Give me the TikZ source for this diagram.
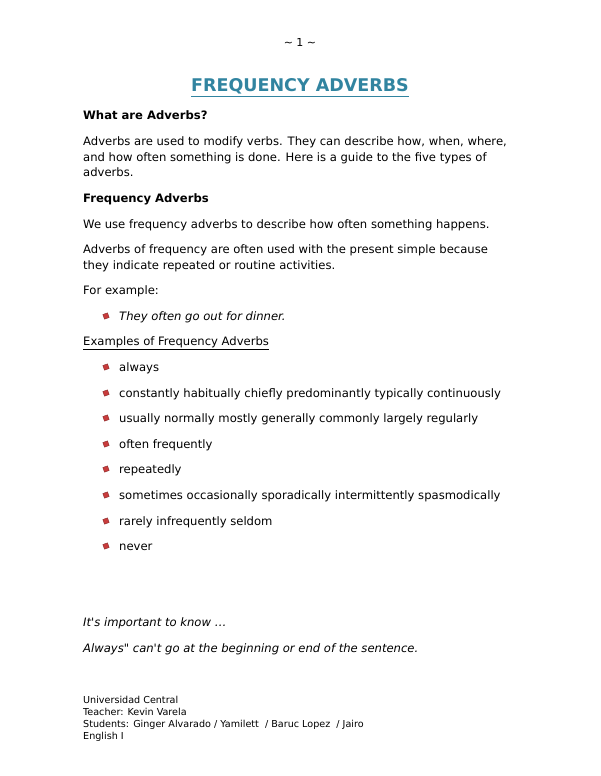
\documentclass[tikz,border=0pt]{standalone}
\usepackage{fontspec}
\setmainfont{DejaVu Sans}[Ligatures=TeXOff]
\definecolor{ttl}{RGB}{49,132,160}
\definecolor{bul}{RGB}{200,60,60}
\begin{document}
\begin{tikzpicture}[x=1pt,y=-1pt,
  txt/.style={anchor=base west,inner sep=0pt,font=\fontsize{11.6}{13}\selectfont},
  bt/.style={txt,font=\fontsize{11.6}{13}\selectfont\bfseries},
  it/.style={txt,font=\fontsize{11.6}{13}\selectfont\itshape},
  ft/.style={anchor=base west,inner sep=0pt,font=\fontsize{9.6}{10}\selectfont},
  bx/.style={fill=bul,draw=bul!60!black,line width=0.3pt,minimum size=5pt,inner sep=0pt,rotate=20}]
\useasboundingbox (0,0) rectangle (600,776);
\node[anchor=base,inner sep=0pt,font=\fontsize{11}{12}\selectfont] (pg) at (300,47) {\char"223C{} 1 \char"223C};
\node[anchor=base,inner sep=0pt,font=\fontsize{17.5}{20}\selectfont\bfseries,text=ttl] (t) at (300,92) {\underline{FREQUENCY ADVERBS}};
\node[bt] (h1) at (83,119) {What are Adverbs?};
\node[txt] (p1) at (83,145) {Adverbs are used to modify verbs. They can describe how, when, where,};
\node[txt] (p2) at (83,161) {and how often something is done. Here is a guide to the five types of};
\node[txt] (p3) at (83,176) {adverbs.};
\node[bt] (h2) at (83,202) {Frequency Adverbs};
\node[txt] (p4) at (83,228) {We use frequency adverbs to describe how often something happens.};
\node[txt] (p5) at (83,253) {Adverbs of frequency are often used with the present simple because};
\node[txt] (p6) at (83,269) {they indicate repeated or routine activities.};
\node[txt] (p7) at (83,294) {For example:};
\node[bx] (b0) at (106,316) {};
\node[it] (e0) at (119,320) {They often go out for dinner.};
\node[txt] (h3) at (83,345) {\underline{Examples of Frequency Adverbs}};
\foreach \y/\t [count=\i] in {367/always,
 393/constantly habitually chiefly predominantly typically continuously,
 418/usually normally mostly generally commonly largely regularly,
 444/often frequently,
 469/repeatedly,
 495/sometimes occasionally sporadically intermittently spasmodically,
 521/rarely infrequently seldom,
 546/never}{
 \node[bx] (b\i) at (106,\y) {};
 \node[txt] (l\i) at (119,\y+4) {\t};
}
\node[it] (n1) at (83,626) {It's important to know \symbol{"2026}};
\node[it] (n2) at (83,652) {Always" can't go at the beginning or end of the sentence.};
\node[ft] (f1) at (83,703) {Universidad Central};
\node[ft] (f2) at (83,715) {Teacher: Kevin Varela};
\node[ft] (f3) at (83,727) {Students: Ginger Alvarado / Yamilett \ / Baruc Lopez \ / Jairo};
\node[ft] (f4) at (83,739) {English I};
\end{tikzpicture}
\end{document}
